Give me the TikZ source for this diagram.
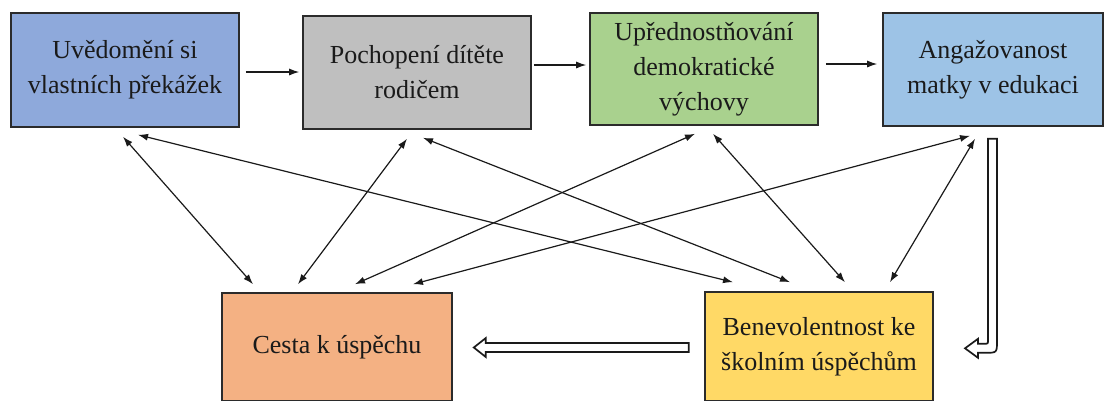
\documentclass[tikz,border=0pt]{standalone}
\usepackage{fontspec}
\setmainfont{Liberation Serif}
\usetikzlibrary{arrows.meta}
\definecolor{cA}{HTML}{8EA9DB}
\definecolor{cB}{HTML}{BFBFBF}
\definecolor{cC}{HTML}{A9D18E}
\definecolor{cD}{HTML}{9DC3E6}
\definecolor{cE}{HTML}{F4B183}
\definecolor{cF}{HTML}{FFD966}
\definecolor{edgec}{HTML}{2B2B2B}
\definecolor{ink}{HTML}{1A1A1A}
\begin{document}
\begin{tikzpicture}[x=1pt,y=-1pt,
 box/.style={draw=edgec, line width=1.6pt, rectangle, inner sep=0pt, align=center, text=ink, font=\fontsize{26}{35}\selectfont},
 link/.style={draw=ink, line width=1.2pt, {Latex[length=10pt,width=7pt]}-{Latex[length=10pt,width=7pt]}},
 flow/.style={draw=ink, line width=1.2pt, -{Latex[length=10pt,width=7pt]}},
 hollow/.style={draw=ink, line width=1.7pt, fill=white, line join=miter}]
\useasboundingbox (0,0) rectangle (1105,400);

\node[box, fill=cA, minimum width=228pt, minimum height=114pt] (b1) at (125,70) {Uvědomění si\\vlastních překážek};
\node[box, fill=cB, minimum width=228pt, minimum height=113pt] (b2) at (417,72.5) {Pochopení dítěte\\rodičem};
\node[box, fill=cC, minimum width=228pt, minimum height=112pt] (b3) at (704,69) {Upřednostňování\\demokratické\\výchovy};
\node[box, fill=cD, minimum width=220pt, minimum height=113pt] (b4) at (993,69.5) {Angažovanost\\matky v edukaci};
\node[box, fill=cE, minimum width=230pt, minimum height=108pt] (b5) at (337,347) {Cesta k úspěchu};
\node[box, fill=cF, minimum width=228pt, minimum height=109pt] (b6) at (819,346.5) {Benevolentnost ke\\školním úspěchům};

% top flow arrows
\draw[flow] ([shift={(6,2)}]b1.east) -- ([shift={(-3,-0.5)}]b2.west);
\draw[flow] ([shift={(2,-7.5)}]b2.east) -- ([shift={(-3,-4)}]b3.west);
\draw[flow] ([shift={(7,-5)}]b3.east) -- ([shift={(-5,-5.5)}]b4.west);

% diagonal two-way links
\draw[link] ([shift={(-2,9)}]b1.south) -- ([shift={(-84,-8)}]b5.north);
\draw[link] ([shift={(13,7)}]b1.south) -- ([shift={(-86,-9)}]b6.north);
\draw[link] ([shift={(-10,9)}]b2.south) -- ([shift={(-39,-8)}]b5.north);
\draw[link] ([shift={(6,8)}]b2.south) -- ([shift={(-29,-9)}]b6.north);
\draw[link] ([shift={(-9,8)}]b3.south) -- ([shift={(18,-8)}]b5.north);
\draw[link] ([shift={(9,8)}]b3.south) -- ([shift={(26,-9)}]b6.north);
\draw[link] ([shift={(-23,9)}]b4.south) -- ([shift={(76,-8)}]b5.north);
\draw[link] ([shift={(-18,12)}]b4.south) -- ([shift={(71,-9)}]b6.north);

% hollow arrow from Benevolentnost to Cesta
\begin{scope}[shift={(b5.east)}]
\draw[hollow] (21,0.5) -- (33,-9) -- (33,-4) -- (236,-4) -- (236,5) -- (33,5) -- (33,10) -- cycle;
\end{scope}

% bent hollow arrow from Angazovanost to Benevolentnost
\begin{scope}[shift={(b4.south)}]
\draw[hollow] (-5,12) -- (4,12) -- (4,214) .. controls (4,226) .. (-8,226) -- (-15,226) -- (-15,231) -- (-28,221.5) -- (-15,212) -- (-15,217) -- (-9,217) .. controls (-5,217) .. (-5,213) -- cycle;
\end{scope}
\end{tikzpicture}
\end{document}
